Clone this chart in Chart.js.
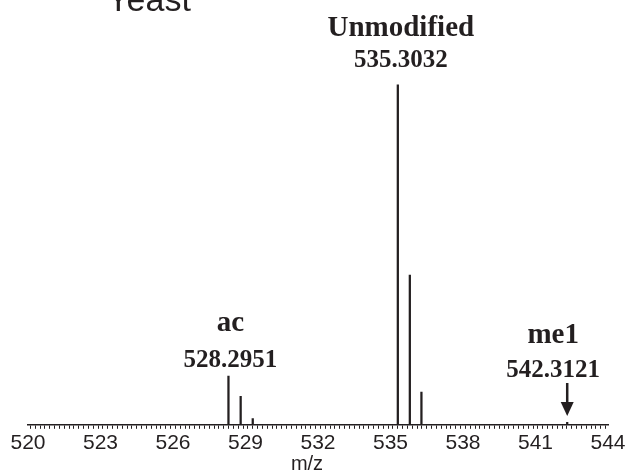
<!DOCTYPE html>
<html>
<head>
<meta charset="utf-8">
<script src="https://cdn.jsdelivr.net/npm/chart.js@4.4.0/dist/chart.umd.min.js"></script>
<style>
  html, body { margin: 0; padding: 0; background: #fff; }
  #wrap { width: 636px; height: 476px; }
</style>
</head>
<body>
<div id="wrap"><canvas id="spectrum"></canvas></div>
<script>
// Centroided peaks (m/z) and relative intensity (%)
const peakMz = [528.2951, 528.80, 529.30, 535.3032, 535.80, 536.28, 542.3121];
const peakIntensity = [14.3, 8.4, 1.8, 100, 44.0, 9.6, 0.7];

// Annotated species
const speciesNames = ['ac', 'Unmodified', 'me1'];
const speciesMz = [528.2951, 535.3032, 542.3121];

// Axis
const mzMin = 520;
const mzMax = 544;
const majorStep = 3;
const minorStep = 0.2;

const INK = '#231f20';

const annotate = {
  id: 'annotate',
  afterDraw(chart) {
    const ctx = chart.ctx;
    const xs = chart.scales.x;
    ctx.save();
    ctx.fillStyle = INK;
    ctx.strokeStyle = INK;

    // panel title (partly clipped at the top edge)
    ctx.font = '34px "Liberation Sans", Arial, sans-serif';
    ctx.textAlign = 'left';
    ctx.textBaseline = 'alphabetic';
    ctx.fillText('Yeast', 107, 11);

    // axis title
    ctx.font = '20px "Liberation Sans", Arial, sans-serif';
    ctx.textAlign = 'center';
    ctx.fillText('m/z', 307, 470);

    // species labels
    const place = {
      'ac':         { dx: 2,   nameY: 331, mzY: 367 },
      'Unmodified': { dx: 3,   nameY: 36,  mzY: 67 },
      'me1':        { dx: -14, nameY: 343, mzY: 377 }
    };
    ctx.textAlign = 'center';
    speciesNames.forEach((name, i) => {
      const p = place[name];
      const x = xs.getPixelForValue(speciesMz[i]) + p.dx;
      ctx.font = 'bold 29px "Liberation Serif", "Times New Roman", serif';
      ctx.fillText(name, x, p.nameY);
      ctx.font = 'bold 25px "Liberation Serif", "Times New Roman", serif';
      ctx.fillText(speciesMz[i].toFixed(4), x, p.mzY);
    });

    // arrow pointing at the me1 position
    const ax = xs.getPixelForValue(speciesMz[2]);
    ctx.lineWidth = 2.5;
    ctx.beginPath();
    ctx.moveTo(ax, 383);
    ctx.lineTo(ax, 405);
    ctx.stroke();
    ctx.beginPath();
    ctx.moveTo(ax - 6.5, 402);
    ctx.lineTo(ax + 6.5, 402);
    ctx.lineTo(ax, 416);
    ctx.closePath();
    ctx.fill();

    ctx.restore();
  }
};

new Chart(document.getElementById('spectrum'), {
  type: 'bar',
  data: {
    datasets: [{
      data: peakMz.map((mz, i) => ({ x: mz, y: peakIntensity[i] })),
      backgroundColor: INK,
      borderWidth: 0,
      barThickness: 1.6
    }]
  },
  options: {
    responsive: true,
    maintainAspectRatio: false,
    animation: false,
    events: [],
    layout: { padding: { left: 28, right: 28, top: 44, bottom: 18 } },
    plugins: { legend: { display: false }, tooltip: { enabled: false }, title: { display: false } },
    scales: {
      x: {
        type: 'linear',
        min: mzMin,
        max: mzMax,
        offset: false,
        border: { display: true, color: INK, width: 1.5 },
        grid: {
          drawOnChartArea: false,
          drawTicks: true,
          tickLength: 4,
          color: INK,
          lineWidth: 1
        },
        ticks: {
          stepSize: minorStep,
          autoSkip: false,
          maxRotation: 0,
          minRotation: 0,
          padding: 2,
          color: INK,
          font: { family: '"Liberation Sans", Arial, sans-serif', size: 21 },
          callback(v) {
            const r = Math.round(v);
            if (Math.abs(v - r) < 1e-6 && (r - mzMin) % majorStep === 0) return String(r);
            return '';
          }
        }
      },
      y: {
        display: false,
        min: 0,
        max: 112
      }
    }
  },
  plugins: [annotate]
});
</script>
</body>
</html>
